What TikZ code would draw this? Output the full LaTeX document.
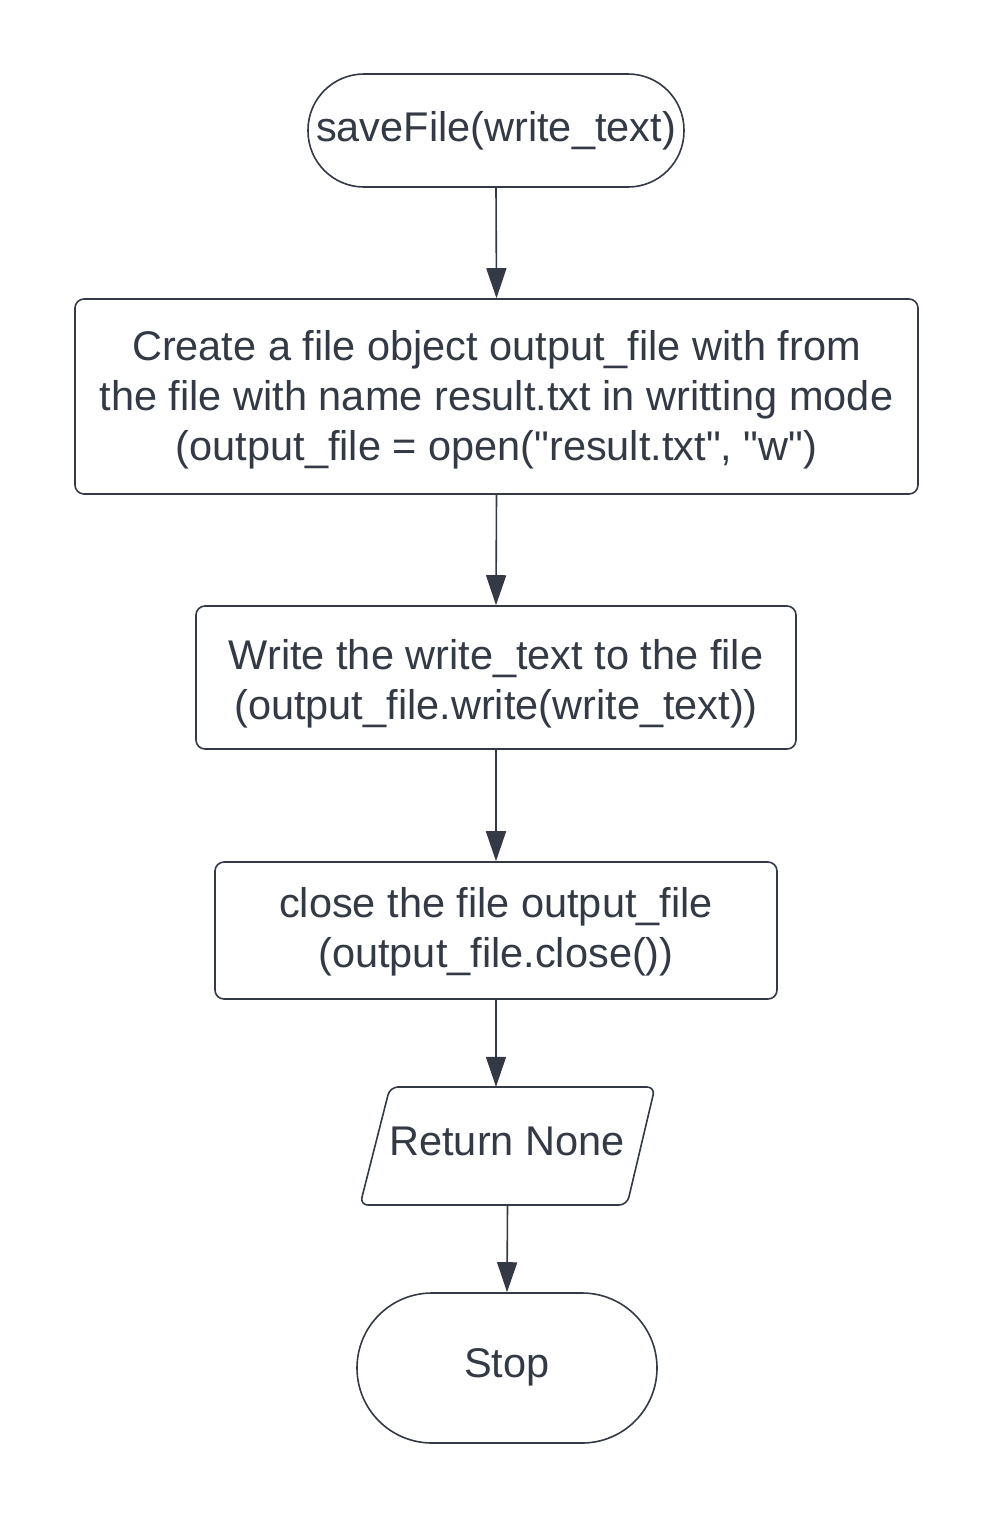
\documentclass[tikz,border=0pt]{standalone}
\usepackage{fontspec}
\setmainfont{Liberation Sans}
\newfontfamily\plainsans{Liberation Sans}
\usetikzlibrary{arrows.meta}
\definecolor{ink}{HTML}{333A45}
\begin{document}
\begin{tikzpicture}[x=1pt,y=-1pt,
  every node/.style={font=\plainsans\fontsize{41.5}{50}\selectfont, text=ink, align=center, inner sep=0pt},
  boxnode/.style={draw=ink, line width=1.6pt, rectangle, rounded corners=9pt},
  termnode/.style={draw=ink, line width=1.6pt, rectangle},
  outline/.style={draw=ink, line width=1.6pt, rounded corners=8pt},
  flow/.style={draw=ink, line width=1.6pt, -{Triangle[length=30pt,width=20pt]}}
]
\fill[white] (0,0) rectangle (994,1519);
\useasboundingbox (0,0) rectangle (994,1519);

\node[termnode, rounded corners=56pt, minimum width=376pt, minimum height=113pt] (start) at (496,130.5) {saveFile(write\_text)};
\node[boxnode, minimum width=843pt, minimum height=195pt] (create) at (496.5,396.5) {};
\node (createtext) at (496.5,399.5) {Create a file object output\_file with from\\the file with name result.txt in writting mode\\(output\_file = open("result.txt", "w")};
\node[boxnode, minimum width=600pt, minimum height=143pt] (write) at (496,677.5) {};
\node (writetext) at (496,684) {Write the write\_text to the file\\(output\_file.write(write\_text))};
\node[boxnode, minimum width=562pt, minimum height=137pt] (close) at (496,930.5) {};
\node (closetext) at (496,932) {close the file output\_file\\(output\_file.close())};
\node[rectangle, minimum width=295pt, minimum height=118pt] (ret) at (507.5,1146) {};
\draw[outline] (390,1087) -- (655,1087) -- (627,1205) -- (360,1205) -- cycle;
\node (rettext) at (507,1141) {Return None};
\node[termnode, rounded corners=75pt, minimum width=300pt, minimum height=150pt] (stop) at (507,1368) {};
\node (stoptext) at (507,1367) {Stop};

\draw[flow] (start.south) -- (create.north);
\draw[flow] (create.south) -- (write.north);
\draw[flow] (write.south) -- (close.north);
\draw[flow] (close.south) -- (close.south |- ret.north);
\draw[flow] (ret.south) -- (stop.north);
\end{tikzpicture}
\end{document}
